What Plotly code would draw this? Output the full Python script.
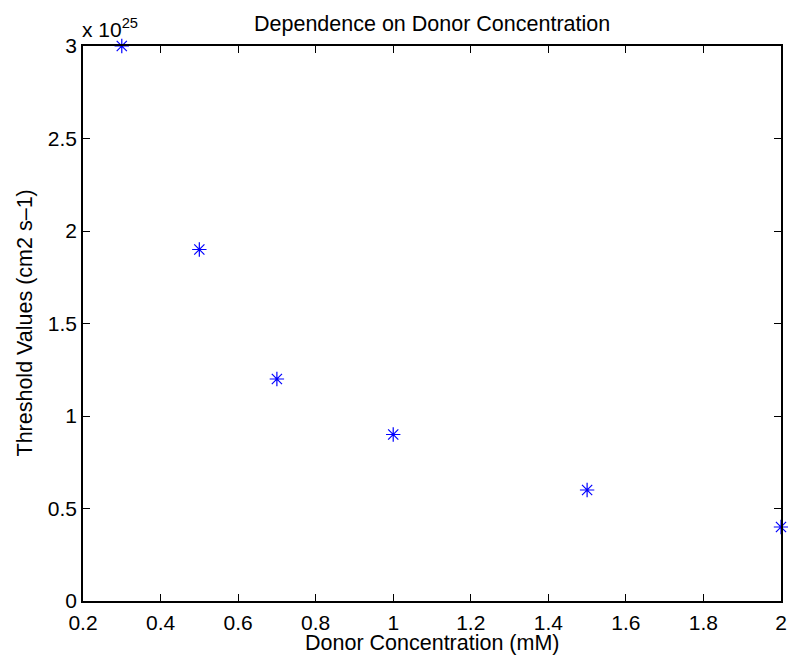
import plotly.graph_objects as go

donor_conc = [0.3, 0.5, 0.7, 1.0, 1.5, 2.0]
threshold_mantissa = [3.0, 1.9, 1.2, 0.9, 0.6, 0.4]
exponent = 25
x_ticks = [0.2, 0.4, 0.6, 0.8, 1.0, 1.2, 1.4, 1.6, 1.8, 2.0]
x_tick_labels = ["0.2", "0.4", "0.6", "0.8", "1", "1.2", "1.4", "1.6", "1.8", "2"]
y_ticks = [0, 0.5, 1.0, 1.5, 2.0, 2.5, 3.0]
y_tick_labels = ["0", "0.5", "1", "1.5", "2", "2.5", "3"]

FONT = "Liberation Sans, Arial, Helvetica, sans-serif"
FS_TICK = 21
FS_LABEL = 21.5

fig = go.Figure()
fig.add_trace(go.Scatter(
    x=donor_conc, y=threshold_mantissa, mode="markers",
    marker=dict(symbol="asterisk-open", size=12, color="#0000ff",
                line=dict(color="#0000ff", width=1.2)),
    cliponaxis=False, showlegend=False))

axis_common = dict(showline=True, linecolor="black", linewidth=1.5, mirror="ticks",
                   ticks="inside", ticklen=7, tickwidth=1, tickcolor="black",
                   showgrid=False, zeroline=False,
                   tickfont=dict(family=FONT, size=FS_TICK, color="black"))

fig.update_xaxes(range=[0.2, 2.0], tickvals=x_ticks, ticktext=x_tick_labels,
                 ticklabelstandoff=2, **axis_common)
fig.update_yaxes(range=[0, 3.0], tickvals=y_ticks, ticktext=y_tick_labels, **axis_common)

fig.update_layout(
    width=788, height=655,
    margin=dict(l=75, r=9, t=38, b=62),
    plot_bgcolor="white", paper_bgcolor="white",
    font=dict(family=FONT, color="black"),
    annotations=[
        dict(text="Dependence on Donor Concentration", x=0.5, y=1, xref="paper", yref="paper",
             xanchor="center", yanchor="middle", yshift=22, showarrow=False,
             font=dict(family=FONT, size=FS_LABEL)),
        dict(text="Donor Concentration (mM)", x=0.5, y=0, xref="paper", yref="paper",
             xanchor="center", yanchor="middle", yshift=-42, showarrow=False,
             font=dict(family=FONT, size=FS_LABEL)),
        dict(text="Threshold Values (cm2 s–1)", x=0, y=0.5, xref="paper", yref="paper",
             xanchor="center", yanchor="middle", xshift=-59, textangle=-90, showarrow=False,
             font=dict(family=FONT, size=FS_LABEL)),
        dict(text="x 10<sup>%d</sup>" % exponent, x=0, y=1, xref="paper", yref="paper",
             xanchor="left", yanchor="bottom", xshift=-3, yshift=3, showarrow=False,
             font=dict(family=FONT, size=FS_TICK)),
    ],
)

fig.write_html("out.html")
